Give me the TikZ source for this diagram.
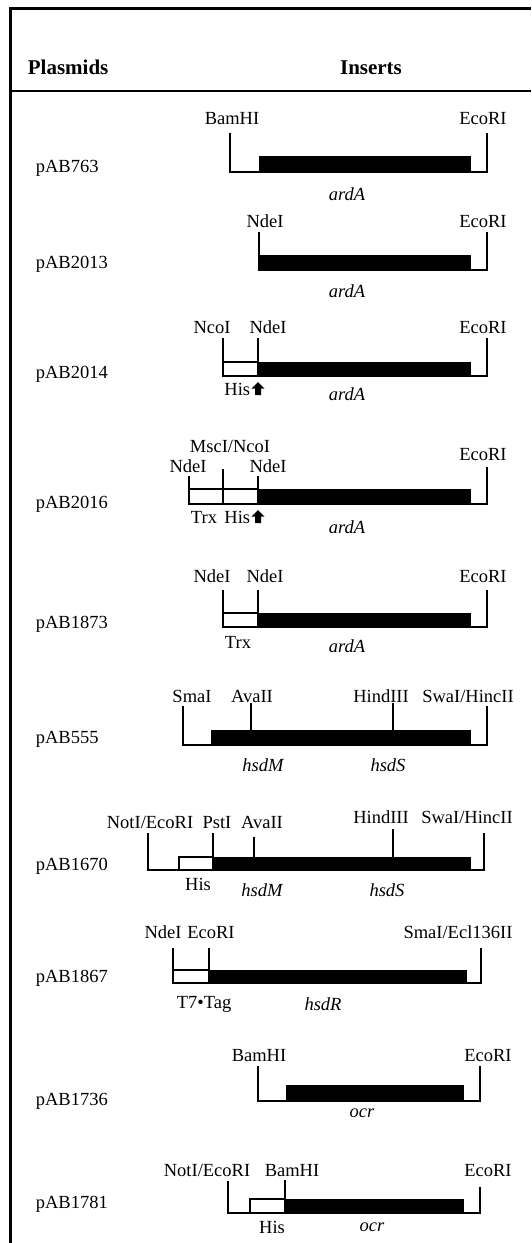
\documentclass[tikz,border=0pt]{standalone}
\usepackage{fontspec}
\setmainfont{Liberation Serif}
\newcommand{\mapfont}{\fontsize{18.5}{22}\selectfont}
\newcommand{\headfont}{\fontsize{21}{25}\selectfont\bfseries}

\begin{document}
\begin{tikzpicture}[x=1pt, y=-1pt, line width=1.7pt, font=\mapfont,
  site/.style = {anchor=base, inner sep=0pt},
  gene/.style = {anchor=base, inner sep=0pt, font=\mapfont\itshape},
  plasmid/.style = {anchor=base west, inner sep=0pt},
  head/.style = {anchor=base, inner sep=0pt, font=\headfont},
  cds/.style = {fill=black},
  tagbox/.style = {draw, fill=white}]
\useasboundingbox (0,0) rectangle (531,1243);

% frame and header
\draw[line width=3pt] (10,1243) -- (10,8.5) -- (531,8.5);
\draw[line width=2pt] (10,91) -- (531,91);
\node[head, anchor=base west] (hplas) at (27,74) {Plasmids};
\node[head] (hins) at (371,74) {Inserts};

% pAB763
\node[plasmid] (p763) at (35,172) {pAB763};
\node[site] (bam1) at (232,124) {BamHI};
\node[site] (eco1) at (483,124) {EcoRI};
\draw (230,133) -- (230,172) -- (487,172) -- (487,133);
\fill[cds] (259,156) rectangle (471,172);
\node[gene] (ard1) at (347,200) {ardA};

% pAB2013
\node[plasmid] (p2013) at (35,268) {pAB2013};
\node[site] (nde2) at (265,227) {NdeI};
\node[site] (eco2) at (483,227) {EcoRI};
\draw (259,232) -- (259,270) -- (487,270) -- (487,232);
\fill[cds] (259,255) rectangle (471,270);
\node[gene] (ard2) at (347,297) {ardA};

% pAB2014
\node[plasmid] (p2014) at (35,378) {pAB2014};
\node[site] (nco3) at (212,333) {NcoI};
\node[site] (nde3) at (268,333) {NdeI};
\node[site] (eco3) at (483,333) {EcoRI};
\draw (223,338) -- (223,376) -- (487,376) -- (487,338);
\draw[tagbox] (223,362) rectangle (258,376);
\fill[cds] (258,362) rectangle (471,376);
\draw (258,338) -- (258,376);
\node[site, anchor=base east] (his3) at (251,395) {His};
\fill (258,382) -- (264.5,388.5) -- (261,388.5) -- (261,395) -- (255,395) -- (255,388.5) -- (251.5,388.5) -- cycle;
\node[gene] (ard3) at (347,400) {ardA};

% pAB2016
\node[plasmid] (p2016) at (35,508) {pAB2016};
\node[site] (msc4) at (230,452) {MscI/NcoI};
\node[site] (nde4a) at (188,472) {NdeI};
\node[site] (nde4b) at (268,472) {NdeI};
\node[site] (eco4) at (483,460) {EcoRI};
\draw (189,476) -- (189,504) -- (487,504) -- (487,467);
\draw[tagbox] (189,489) rectangle (258,504);
\fill[cds] (258,489) rectangle (471,504);
\draw (223,469) -- (223,504);
\draw (258,476) -- (258,504);
\node[site] (trx4) at (204,523) {Trx};
\node[site, anchor=base east] (his4) at (251,523) {His};
\fill (258,510) -- (264.5,516.5) -- (261,516.5) -- (261,523) -- (255,523) -- (255,516.5) -- (251.5,516.5) -- cycle;
\node[gene] (ard4) at (347,533) {ardA};

% pAB1873
\node[plasmid] (p1873) at (35,628) {pAB1873};
\node[site] (nde5a) at (212,582) {NdeI};
\node[site] (nde5b) at (265,582) {NdeI};
\node[site] (eco5) at (483,582) {EcoRI};
\draw (223,590) -- (223,627) -- (487,627) -- (487,590);
\draw[tagbox] (223,613) rectangle (258,627);
\fill[cds] (258,613) rectangle (471,627);
\draw (258,590) -- (258,627);
\node[site] (trx5) at (238,648) {Trx};
\node[gene] (ard5) at (347,652) {ardA};

% pAB555
\node[plasmid] (p555) at (35,743) {pAB555};
\node[site] (sma6) at (192,702) {SmaI};
\node[site] (ava6) at (252,702) {AvaII};
\node[site] (hin6) at (381,702) {HindIII};
\node[site] (swa6) at (468,702) {SwaI/HincII};
\draw (183,706) -- (183,745) -- (487,745) -- (487,706);
\fill[cds] (211,730) rectangle (471,745);
\draw (251,703) -- (251,730);
\draw (393,703) -- (393,730);
\node[gene] (hsdm6) at (263,771) {hsdM};
\node[gene] (hsds6) at (388,771) {hsdS};

% pAB1670
\node[plasmid] (p1670) at (35,870) {pAB1670};
\node[site] (not7) at (150,828) {NotI/EcoRI};
\node[site] (pst7) at (217,828) {PstI};
\node[site] (ava7) at (262,828) {AvaII};
\node[site] (hin7) at (381,823) {HindIII};
\node[site] (swa7) at (467,823) {SwaI/HincII};
\draw (148,833) -- (148,870) -- (484,870) -- (484,833);
\draw[tagbox] (179,857) rectangle (213,870);
\fill[cds] (213,857) rectangle (471,870);
\draw (213,833) -- (213,870);
\draw (254,837) -- (254,857);
\draw (393,829) -- (393,857);
\node[site] (his7) at (198,890) {His};
\node[gene] (hsdm7) at (262,896) {hsdM};
\node[gene] (hsds7) at (387,896) {hsdS};

% pAB1867
\node[plasmid] (p1867) at (35,982) {pAB1867};
\node[site] (nde8) at (163,938) {NdeI};
\node[site] (eco8) at (211,938) {EcoRI};
\node[site] (sma8) at (458,938) {SmaI/Ecl136II};
\draw (173,948) -- (173,983) -- (481,983) -- (481,948);
\draw[tagbox] (173,970) rectangle (209,983);
\fill[cds] (209,970) rectangle (467,983);
\draw (209,948) -- (209,983);
\node[site] (t7tag8) at (204,1008) {T7•Tag};
\node[gene] (hsdr8) at (323,1010) {hsdR};

% pAB1736
\node[plasmid] (p1736) at (35,1105) {pAB1736};
\node[site] (bam9) at (259,1061) {BamHI};
\node[site] (eco9) at (488,1061) {EcoRI};
\draw (258,1066) -- (258,1101) -- (480,1101) -- (480,1066);
\fill[cds] (286,1085) rectangle (464,1101);
\node[gene] (ocr9) at (362,1117) {ocr};

% pAB1781
\node[plasmid] (p1781) at (35,1208) {pAB1781};
\node[site] (not10) at (207,1176) {NotI/EcoRI};
\node[site] (bam10) at (292,1176) {BamHI};
\node[site] (eco10) at (488,1176) {EcoRI};
\draw (228,1181) -- (228,1213) -- (480,1213) -- (480,1187);
\draw[tagbox] (250,1199) rectangle (285,1213);
\fill[cds] (285,1199) rectangle (464,1213);
\draw (285,1180) -- (285,1213);
\node[site] (his10) at (272,1233) {His};
\node[gene] (ocr10) at (372,1231) {ocr};
\end{tikzpicture}
\end{document}
